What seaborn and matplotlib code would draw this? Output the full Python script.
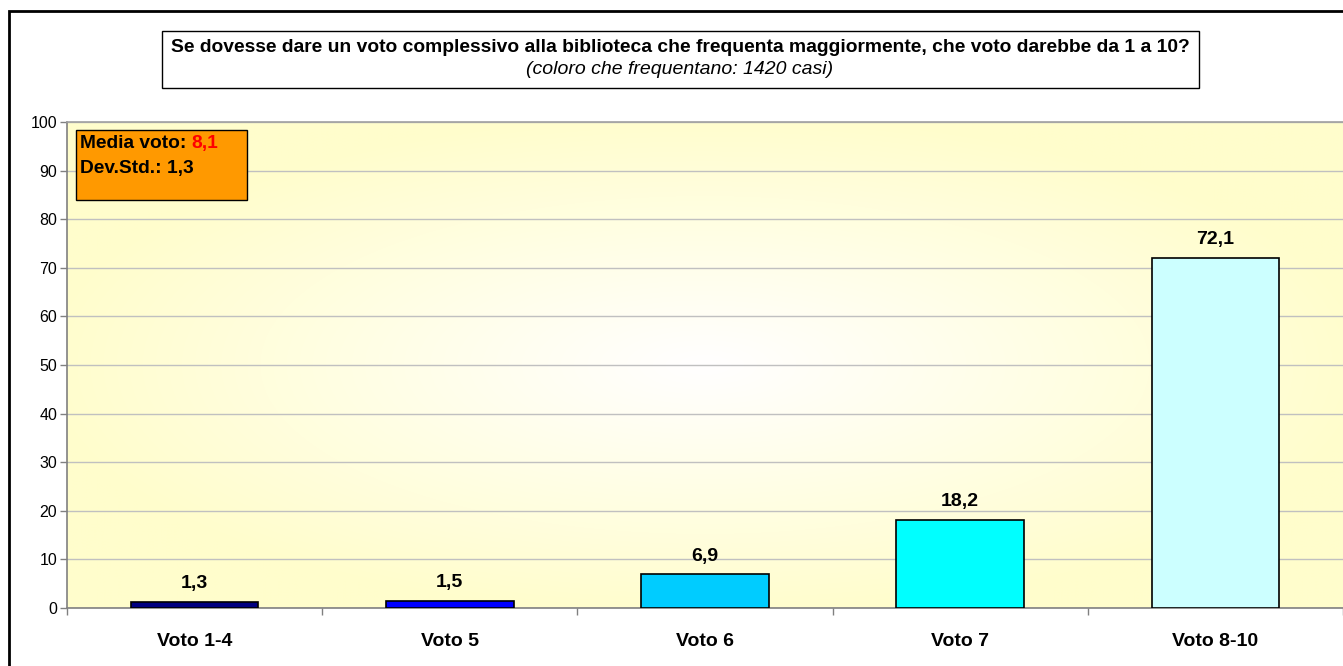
import numpy as np
import pandas as pd
import seaborn as sns
import matplotlib.pyplot as plt
from matplotlib.patches import Rectangle
from matplotlib.ticker import MultipleLocator, FixedLocator

# Dati
categorie = ["Voto 1-4", "Voto 5", "Voto 6", "Voto 7", "Voto 8-10"]
percentuali = [1.3, 1.5, 6.9, 18.2, 72.1]
etichette = ["1,3", "1,5", "6,9", "18,2", "72,1"]
colori = ["#000080", "#0000FF", "#00CCFF", "#00FFFF", "#CCFFFF"]

titolo = "Se dovesse dare un voto complessivo alla biblioteca che frequenta maggiormente, che voto darebbe da 1 a 10?"
sottotitolo = "(coloro che frequentano: 1420 casi)"
media_voto = "8,1"
dev_std = "1,3"

sns.set_theme(style="white")
plt.rcParams['font.family'] = ['Liberation Sans', 'DejaVu Sans']
plt.rcParams['text.color'] = 'black'
plt.rcParams['xtick.color'] = 'black'
plt.rcParams['ytick.color'] = 'black'

W, H = 1343, 666
fig = plt.figure(figsize=(W / 100, H / 100), dpi=100)
fig.patch.set_facecolor("white")

def px_box(x0, y0, x1, y1):
    # converte pixel (origine in alto a sinistra) in coordinate figura
    return x0 / W, 1 - y1 / H, (x1 - x0) / W, (y1 - y0) / H

ax = fig.add_axes(px_box(67, 122, 1343, 608))

df = pd.DataFrame({"categoria": categorie, "valore": percentuali})
sns.barplot(data=df, x="categoria", y="valore", hue="categoria",
            palette=colori, legend=False, width=0.5, saturation=1,
            edgecolor="black", linewidth=1.2, ax=ax, zorder=3)

ax.set_xlim(-0.5, len(categorie) - 0.5)
ax.set_ylim(0, 100)
ax.yaxis.set_major_locator(MultipleLocator(10))
ax.set_xlabel("")
ax.set_ylabel("")

# sfondo sfumato radiale
yy, xx = np.mgrid[0:1:200j, 0:1:400j]
d = np.sqrt(((xx - 0.5) / 0.5) ** 2 + ((yy - 0.5) / 0.5) ** 2) / np.sqrt(2)
d = np.clip(d * 1.35, 0, 1)
img = np.ones((200, 400, 3))
img[..., 2] = 1 - d * (1 - 204 / 255)
img[..., 1] = 1 - d * (1 - 252 / 255) * 0.5
ax.imshow(img, extent=(0, 1, 0, 1), transform=ax.transAxes, aspect="auto",
          zorder=0, interpolation="bilinear")

ax.grid(axis="y", color="#C0C0C0", linewidth=1, zorder=1)
ax.set_axisbelow(True)

for s in ["left", "top", "bottom"]:
    ax.spines[s].set_color("#808080")
    ax.spines[s].set_linewidth(1.2)
ax.spines["right"].set_visible(False)
ax.spines["top"].set_color("#A0A0A0")

ax.tick_params(axis="y", left=True, length=5, width=1, color="#808080",
               labelsize=11.5, labelcolor="black", pad=2)
ax.tick_params(axis="x", which="major", bottom=False, labelsize=14,
               labelcolor="black", pad=12)
ax.xaxis.set_minor_locator(FixedLocator(np.arange(-0.5, len(categorie), 1)))
ax.tick_params(axis="x", which="minor", bottom=True, length=5, width=1,
               color="#808080")
for lab in ax.get_xticklabels():
    lab.set_fontweight("bold")

for i, (v, t) in enumerate(zip(percentuali, etichette)):
    ax.annotate(t, xy=(i, v), xytext=(0, 13), textcoords="offset points",
                ha="center", va="center", fontsize=14, fontweight="bold",
                color="black", zorder=4)

# riquadro media / deviazione standard
ax.add_patch(Rectangle((0.007, 84.0), 0.134, 14.4, transform=ax.get_yaxis_transform(),
                       facecolor="#FF9900", edgecolor="black", linewidth=1, zorder=5))
t1 = ax.text(0.010, 95.6, "Media voto: ", transform=ax.get_yaxis_transform(),
             ha="left", va="center", fontsize=13.8, fontweight="bold",
             color="black", zorder=6)
ax.annotate(media_voto, xy=(1, 0.5), xycoords=t1, ha="left", va="center",
            fontsize=13.8, fontweight="bold", color="#FF0000", zorder=6)
ax.text(0.010, 90.4, "Dev.Std.: " + dev_std, transform=ax.get_yaxis_transform(),
        ha="left", va="center", fontsize=13.8, fontweight="bold",
        color="black", zorder=6)

# riquadro del titolo
tb = px_box(162, 31, 1199, 88)
fig.add_artist(Rectangle(tb[:2], tb[2], tb[3], transform=fig.transFigure,
                         facecolor="white", edgecolor="black", linewidth=1))
fig.text(680 / W, 1 - 47 / H, titolo, ha="center", va="center",
         fontsize=13.9, fontweight="bold", color="black")
fig.text(680 / W, 1 - 70 / H, sottotitolo, ha="center", va="center",
         fontsize=14, fontstyle="italic", color="black")

# bordo esterno del grafico
bb = px_box(9, 11, 1360, 680)
fig.add_artist(Rectangle(bb[:2], bb[2], bb[3], transform=fig.transFigure,
                         facecolor="none", edgecolor="black", linewidth=2))

fig.savefig("out.png", dpi=100)
